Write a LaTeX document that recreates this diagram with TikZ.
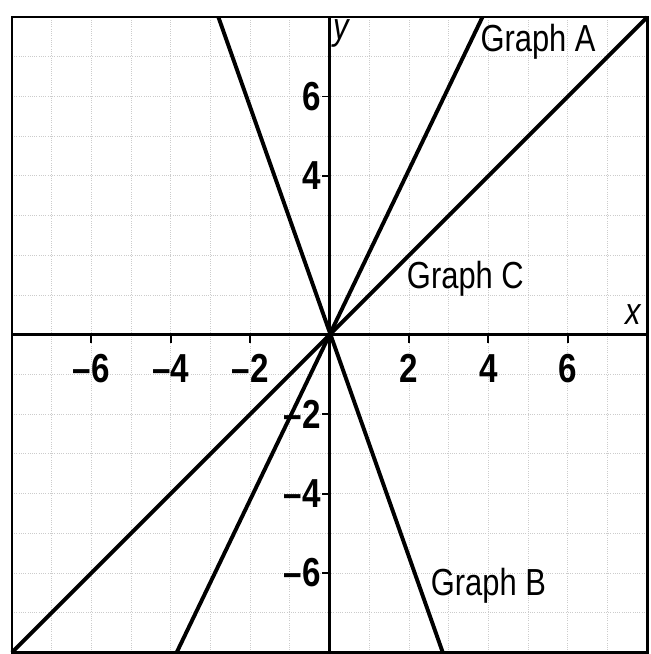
\documentclass[tikz,border=0pt]{standalone}
\usepackage{fontspec}
\setmainfont{Liberation Sans}
\newfontfamily\narrowfont[FakeStretch=0.82]{Liberation Sans}
\usetikzlibrary{positioning}

\begin{document}
\begin{tikzpicture}[
    graph line/.style={line width=2.8pt},
    axis line/.style={line width=2.4pt},
    grid line/.style={gray!40, densely dotted, line width=0.6pt},
    tick label/.style={font=\narrowfont\fontsize{29}{31}\selectfont\bfseries, inner sep=1pt},
    graph label/.style={font=\narrowfont\fontsize{27}{29}\selectfont, inner sep=1pt}
  ]
\useasboundingbox (-8.30,-8.04) rectangle (8.07,8.43);
\draw[grid line] (-8,-8) grid (8,8);
\draw[line width=1.8pt] (-8,-8) rectangle (8,8);

% axes
\coordinate (xl) at (-8,0); \coordinate (xr) at (8,0);
\coordinate (yb) at (0,-8); \coordinate (yt) at (0,8);
\coordinate (o) at (0,0);
\draw[axis line] (xl) -- (xr);
\draw[axis line] (yb) -- (yt);
\node[font=\narrowfont\fontsize{27}{29}\selectfont\itshape] (xlab) at (7.65,0.5) {x};
\node[font=\narrowfont\fontsize{27}{29}\selectfont\itshape] (ylab) at (0.3,7.6) {y};

\foreach \t/\s in {-6/\textendash6,-4/\textendash4,-2/\textendash2,2/2,4/4,6/6}{
  \coordinate (xt\t) at (\t,0);
  \draw[line width=1.4pt] (xt\t) -- ++(0,-0.2);
  \node[tick label] (xn\t) at (\t,-0.85) {\s};
}
\foreach \t/\s in {-6/\textendash6,-4/\textendash4,-2/\textendash2,4/4,6/6}{
  \coordinate (yt\t) at (0,\t);
  \draw[line width=1.4pt] (yt\t) -- ++(-0.2,0);
  \node[tick label, anchor=east] (yn\t) at (-0.18,\t) {\s};
}

% graphs
\coordinate (a1) at (-3.85,-8); \coordinate (a2) at (3.85,8);
\coordinate (b1) at (-2.8,8); \coordinate (b2) at (2.85,-8);
\coordinate (c1) at (-8,-8); \coordinate (c2) at (8,8);
\draw[graph line] (a1) -- (a2);
\draw[graph line] (b1) -- (b2);
\draw[graph line] (c1) -- (c2);

\node[graph label] (glA) at (5.25,7.38) {Graph A};
\node[graph label] (glB) at (4.0,-6.32) {Graph B};
\node[graph label] (glC) at (3.42,1.42) {Graph C};
\end{tikzpicture}
\end{document}
